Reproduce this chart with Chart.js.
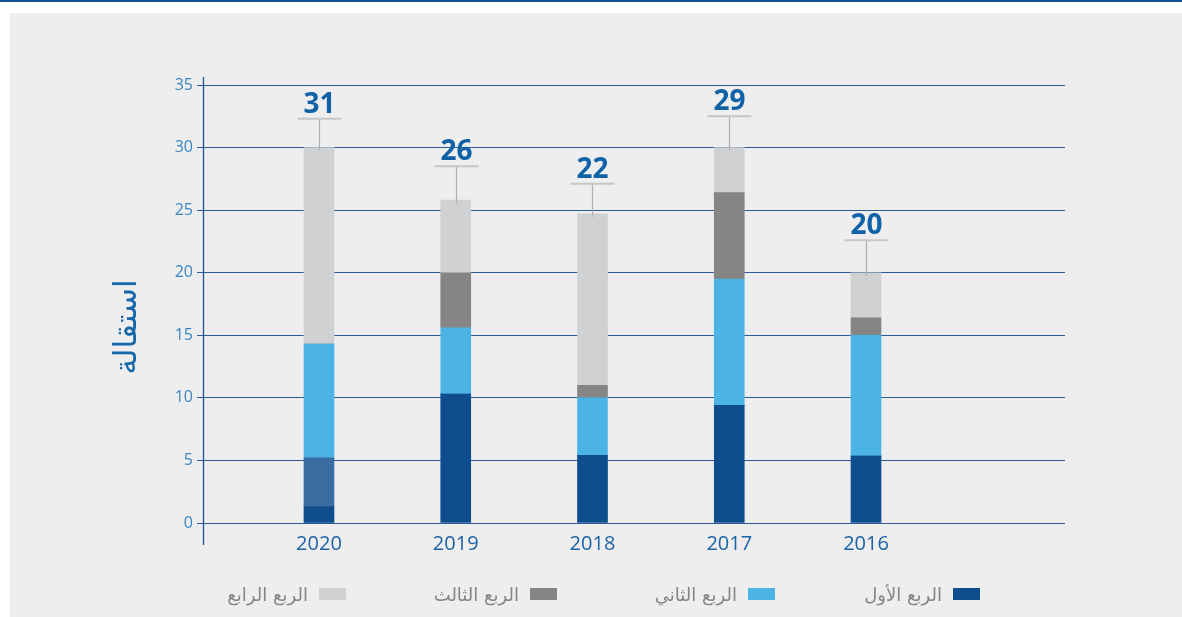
<!DOCTYPE html>
<html>
<head>
<meta charset="utf-8">
<script src="https://cdn.jsdelivr.net/npm/chart.js@4"></script>
<style>
html, body { margin: 0; padding: 0; background: #fff; width: 1182px; height: 617px; overflow: hidden; }
#topline { position: absolute; left: 0; top: 0; width: 1182px; height: 2px; background: #0d4f91; }
#panel { position: absolute; left: 10px; top: 13px; right: 0; bottom: 0; background: #eeeeee; }
#wrap { position: absolute; left: 0; top: 0; width: 1182px; height: 617px; }
.legend { position: absolute; top: 583px; height: 22px; direction: rtl; font: 18px "DejaVu Sans"; color: #858585; display: flex; align-items: center; white-space: nowrap; }
.legend i { display: inline-block; width: 27px; height: 12px; margin-left: 11px; }
</style>
</head>
<body>
<div id="topline"></div>
<div id="panel"></div>
<div id="wrap"><canvas id="chart" width="1182" height="617"></canvas></div>
<div id="legendBox"></div>
<script>
const years = ['2020', '2019', '2018', '2017', '2016'];
const q1 = [1.3, 10.3, 5.4, 9.4, 5.35];
const q1Extra = [3.9, 0, 0, 0, 0];
const q2 = [9.1, 5.3, 4.6, 10.1, 9.65];
const q3 = [0, 4.4, 1.0, 6.9, 1.4];
const q4 = [15.7, 5.8, 13.7, 3.6, 3.6];
const totals = [31, 26, 22, 29, 20];
const capLevels = [32.3, 28.5, 27.1, 32.5, 22.6];
const yTitle = 'استقالة';

const SERIES = [
    { name: 'الربع الأول', data: q1, color: '#0e4d8e', right: 202 },
    { name: '', data: q1Extra, color: '#3a6ca1' },
    { name: 'الربع الثاني', data: q2, color: '#4cb4e4', right: 407 },
    { name: 'الربع الثالث', data: q3, color: '#858585', right: 625 },
    { name: 'الربع الرابع', data: q4, color: '#d0d1d3', right: 836 }
];

// legend (html, right-to-left)
const lb = document.getElementById('legendBox');
SERIES.filter(s => s.name).forEach(s => {
    const d = document.createElement('div');
    d.className = 'legend';
    d.style.right = s.right + 'px';
    d.innerHTML = `<i style="background:${s.color}"></i><span>${s.name}</span>`;
    lb.appendChild(d);
});

const extras = {
    id: 'extras',
    afterDraw(chart) {
        const ctx = chart.ctx, x = chart.scales.x, y = chart.scales.y;
        ctx.save();
        // y axis line
        ctx.strokeStyle = '#1f5596';
        ctx.lineWidth = 1.3;
        ctx.beginPath();
        ctx.moveTo(203.5, 77);
        ctx.lineTo(203.5, 545);
        ctx.stroke();

        // caps + total labels
        years.forEach((yr, i) => {
            const sum = SERIES.reduce((a, s) => a + s.data[i], 0);
            const cx = Math.round(x.getPixelForValue(i)) + 0.5;
            const top = y.getPixelForValue(sum);
            const cap = y.getPixelForValue(capLevels[i]);
            ctx.strokeStyle = '#b0b0b0';
            ctx.lineWidth = 1.2;
            ctx.beginPath();
            ctx.moveTo(cx, top + 3);
            ctx.lineTo(cx, cap);
            ctx.stroke();
            ctx.strokeStyle = '#c6c6c6';
            ctx.lineWidth = 2;
            ctx.beginPath();
            ctx.moveTo(cx - 22, cap);
            ctx.lineTo(cx + 22, cap);
            ctx.stroke();
            ctx.fillStyle = '#0f62a8';
            ctx.font = 'bold 28px "Open Sans"';
            ctx.textAlign = 'center';
            ctx.textBaseline = 'alphabetic';
            ctx.fillText(totals[i], cx, cap - 6);
        });

        // y title
        ctx.translate(128, 327);
        ctx.rotate(-Math.PI / 2);
        ctx.fillStyle = '#1666aa';
        ctx.font = '31px "DejaVu Sans"';
        ctx.textAlign = 'center';
        ctx.textBaseline = 'middle';
        ctx.fillText(yTitle, 0, 0);
        ctx.restore();
    }
};

new Chart(document.getElementById('chart'), {
    type: 'bar',
    data: {
        datasets: SERIES.map(s => ({
            label: s.name,
            data: s.data.map((v, i) => ({ x: i, y: v })),
            backgroundColor: s.color,
            borderWidth: 0,
            barThickness: 30
        }))
    },
    options: {
        responsive: false,
        animation: false,
        layout: { padding: { top: 85, right: 117, left: 0, bottom: 0 } },
        plugins: { legend: { display: false }, tooltip: { enabled: false } },
        scales: {
            x: {
                type: 'linear', stacked: true, min: -0.848, max: 5.455, offset: false,
                grid: { display: false },
                border: { display: false },
                afterFit: s => { s.height = 94; },
                afterBuildTicks: s => { s.ticks = years.map((_, i) => ({ value: i })); },
                ticks: {
                    padding: 1,
                    color: '#1b62a6',
                    font: { family: 'Open Sans', size: 20 },
                    callback: v => years[v] ?? ''
                }
            },
            y: {
                stacked: true, min: 0, max: 35,
                border: { display: false },
                afterFit: s => { s.width = 203; },
                grid: { color: '#2b5c98', lineWidth: 1, tickLength: 6, drawTicks: true },
                ticks: {
                    stepSize: 5, padding: 4,
                    color: '#3a86c4',
                    font: { family: 'Open Sans', size: 16 }
                }
            }
        }
    },
    plugins: [extras]
});
</script>
</body>
</html>
